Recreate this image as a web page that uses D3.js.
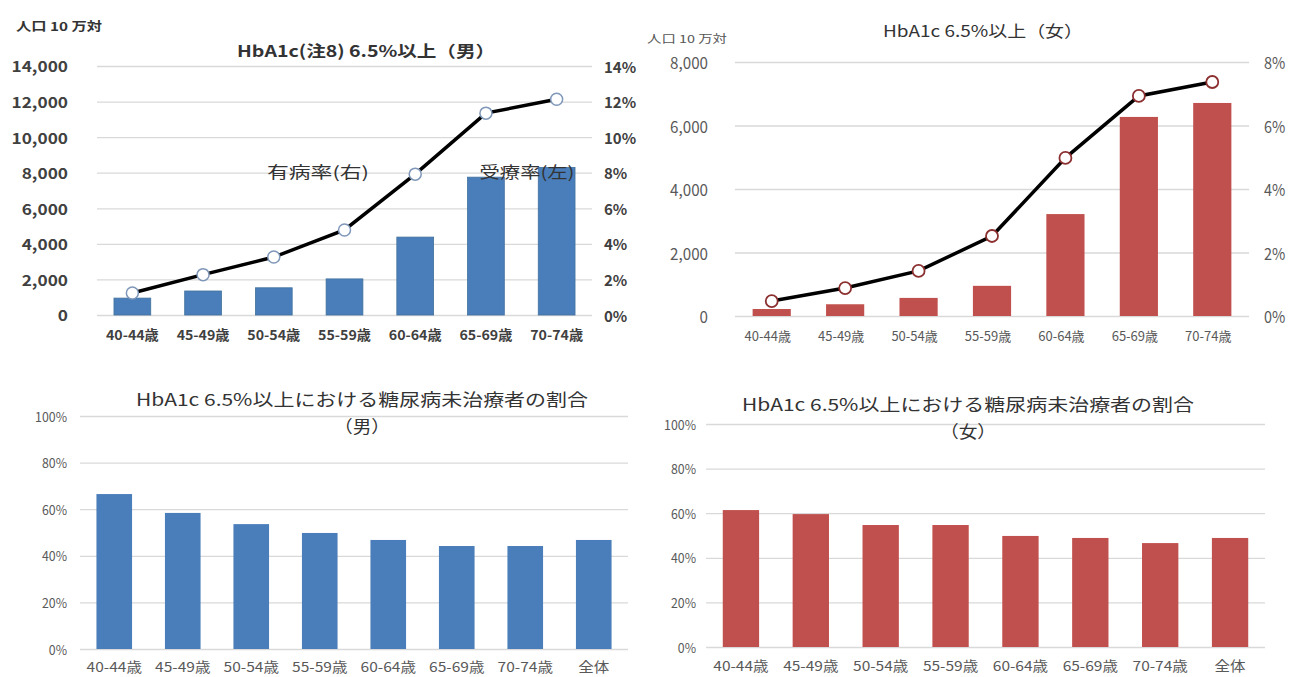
<!DOCTYPE html>
<html><head><meta charset="utf-8">
<script src="https://cdn.jsdelivr.net/npm/d3@7"></script>
<style>
body{margin:0;background:#fff;}
svg{display:block;font-family:"Noto Sans CJK JP","Noto Sans",sans-serif;}
</style></head>
<body>
<svg id="c" width="1289" height="677"></svg>
<script>
// ---- data ----
const ageCats = ["40-44歳","45-49歳","50-54歳","55-59歳","60-64歳","65-69歳","70-74歳"];
const ageCatsAll = ["40-44歳","45-49歳","50-54歳","55-59歳","60-64歳","65-69歳","70-74歳","全体"];
const maleTreatment = [950, 1350, 1530, 2030, 4380, 7750, 8300];        // 受療率 (左, 人口10万対)
const malePrevalence = [1.24, 2.27, 3.26, 4.78, 7.92, 11.35, 12.13];    // 有病率 (右, %)
const femaleTreatment = [220, 370, 570, 950, 3210, 6270, 6710];
const femalePrevalence = [0.47, 0.88, 1.42, 2.52, 4.98, 6.93, 7.37];
const maleUntreated = [66.5, 58.4, 53.6, 49.8, 46.8, 44.2, 44.2, 46.8];
const femaleUntreated = [61.4, 59.6, 54.7, 54.7, 49.8, 48.9, 46.6, 48.9];
const leftTicksMale = [0,2000,4000,6000,8000,10000,12000,14000];
const rightTicksMale = [0,2,4,6,8,10,12,14];
const leftTicksFemale = [0,2000,4000,6000,8000];
const rightTicksFemale = [0,2,4,6,8];
const pctTicks = [0,20,40,60,80,100];
const titles = {
  tl: "HbA1c(注8) 6.5%以上（男）",
  tr: "HbA1c 6.5%以上（女）",
  b1: "HbA1c 6.5%以上における糖尿病未治療者の割合",
  blSub: "（男）",
  brSub: "（女）",
  unit: "人口 10 万対",
  prev: "有病率(右)",
  treat: "受療率(左)"
};

const svg = d3.select("#c");
const BLUE = "#4a7ebb", RED = "#c0504d", GRID = "#d9d9d9";
const fmt = d3.format(",");

function txt(g, x, y, s, o) {
  o = o || {};
  const t = g.append("text")
    .attr("transform", `translate(${x},${y}) scale(${o.sx||1},1)`)
    .attr("text-anchor", o.anchor || "start")
    .attr("dominant-baseline", "central")
    .attr("font-size", o.size || 13)
    .attr("font-weight", o.weight || "normal")
    .attr("fill", o.fill || "#595959")
    .text(s);
  if (o.len) t.attr("textLength", o.len).attr("lengthAdjust", "spacingAndGlyphs");
  return t;
}

function grid(g, y, x0, x1, ticks) {
  g.append("g").attr("transform", `translate(${x0},0)`)
    .call(d3.axisLeft(y).tickValues(ticks).tickSize(-(x1 - x0)).tickFormat(""))
    .call(a => a.select(".domain").remove())
    .call(a => a.selectAll("line").attr("stroke", GRID).attr("stroke-width", 1.3));
}

// ---------- Top-left (male) ----------
(function(){
  const g = svg.append("g");
  const x0 = 97, x1 = 592, yb = 315, yt = 66;
  const x = d3.scaleBand().domain(ageCats).range([x0, x1]).paddingInner(0.48).paddingOuter(0.24);
  const yL = d3.scaleLinear().domain([0, 14000]).range([yb, yt]);
  const yR = d3.scaleLinear().domain([0, 14]).range([yb, yt]);
  grid(g, yL, x0, x1, leftTicksMale);
  leftTicksMale.forEach(v => txt(g, 68, yL(v), fmt(v), {anchor:"end", size:15, weight:"bold", fill:"#404040", sx:1.15}));
  rightTicksMale.forEach(v => txt(g, 604, yR(v), v + "%", {size:15, weight:"bold", fill:"#404040", sx:1.0}));
  g.selectAll("rect").data(maleTreatment).join("rect")
    .attr("x", (d,i) => x(ageCats[i])).attr("width", x.bandwidth())
    .attr("y", d => yL(d)).attr("height", d => yb - yL(d))
    .attr("fill", BLUE).attr("stroke", "#41719c").attr("stroke-width", 0.8);
  ageCats.forEach(c => txt(g, x(c) + x.bandwidth()/2, 334, c, {anchor:"middle", size:13.5, weight:"bold", fill:"#404040", sx:1.05}));
  const cx = (d,i) => x(ageCats[i]) + x.bandwidth()/2;
  g.append("path").datum(malePrevalence)
    .attr("d", d3.line().x(cx).y(d => yR(d)))
    .attr("fill", "none").attr("stroke", "#000").attr("stroke-width", 3.5);
  g.selectAll("circle").data(malePrevalence).join("circle")
    .attr("cx", cx).attr("cy", d => yR(d)).attr("r", 6)
    .attr("fill", "#fff").attr("stroke", "#7f97b8").attr("stroke-width", 1.5);
  txt(g, 366, 50, titles.tl, {anchor:"middle", size:16, weight:"bold", fill:"#333", len:258});
  txt(g, 16, 25, titles.unit, {size:12, weight:"bold", fill:"#333", len:86});
  txt(g, 318, 171, titles.prev, {anchor:"middle", size:16, fill:"#333", len:102});
  txt(g, 527, 171, titles.treat, {anchor:"middle", size:16, fill:"#333", len:95});
})();

// ---------- Top-right (female) ----------
(function(){
  const g = svg.append("g");
  const x0 = 735, x1 = 1249, yb = 316, yt = 62;
  const x = d3.scaleBand().domain(ageCats).range([x0, x1]).paddingInner(0.48).paddingOuter(0.24);
  const yL = d3.scaleLinear().domain([0, 8000]).range([yb, yt]);
  const yR = d3.scaleLinear().domain([0, 8]).range([yb, yt]);
  grid(g, yL, x0, x1, leftTicksFemale);
  leftTicksFemale.forEach(v => txt(g, 708, yL(v), fmt(v), {anchor:"end", size:16, fill:"#595959", sx:0.95}));
  rightTicksFemale.forEach(v => txt(g, 1264, yR(v), v + "%", {size:16, fill:"#595959", sx:0.9}));
  g.selectAll("rect").data(femaleTreatment).join("rect")
    .attr("x", (d,i) => x(ageCats[i])).attr("width", x.bandwidth())
    .attr("y", d => yL(d)).attr("height", d => yb - yL(d))
    .attr("fill", RED);
  ageCats.forEach(c => txt(g, x(c) + x.bandwidth()/2 - 4, 335, c, {anchor:"middle", size:13, fill:"#595959"}));
  const cx = (d,i) => x(ageCats[i]) + x.bandwidth()/2;
  g.append("path").datum(femalePrevalence)
    .attr("d", d3.line().x(cx).y(d => yR(d)))
    .attr("fill", "none").attr("stroke", "#000").attr("stroke-width", 3.5);
  g.selectAll("circle").data(femalePrevalence).join("circle")
    .attr("cx", cx).attr("cy", d => yR(d)).attr("r", 6)
    .attr("fill", "#fff").attr("stroke", "#8b2f2f").attr("stroke-width", 1.8);
  txt(g, 983, 30, titles.tr, {anchor:"middle", size:16, fill:"#333", len:200});
  txt(g, 647, 38, titles.unit, {size:11, fill:"#555", len:80});
})();

// ---------- Bottom charts ----------
function bottom(data, color, o) {
  const g = svg.append("g");
  const x = d3.scaleBand().domain(ageCatsAll).range([o.x0, o.x1]).paddingInner(0.48).paddingOuter(0.24);
  const y = d3.scaleLinear().domain([0, 100]).range([o.yb, o.yt]);
  grid(g, y, o.x0, o.x1, pctTicks);
  pctTicks.forEach(v => txt(g, o.tickX, y(v), v + "%", {anchor:"end", size:13, fill:"#595959", sx:0.95}));
  g.selectAll("rect").data(data).join("rect")
    .attr("x", (d,i) => x(ageCatsAll[i])).attr("width", x.bandwidth())
    .attr("y", d => y(d)).attr("height", d => o.yb - y(d))
    .attr("fill", color);
  ageCatsAll.forEach(c => txt(g, x(c) + x.bandwidth()/2, o.catY, c, {anchor:"middle", size:13.5, fill:"#595959", sx:1.15}));
  txt(g, o.tcx, o.t1y, titles.b1, {anchor:"middle", size:17, fill:"#333", len:452});
  txt(g, o.tcx, o.t2y, o.sub, {anchor:"middle", size:17, fill:"#333", sx:1.1});
}
bottom(maleUntreated, BLUE, {x0:80, x1:628, yb:649, yt:416, tickX:67, catY:666, tcx:362, t1y:398, t2y:425, sub:titles.blSub});
bottom(femaleUntreated, RED, {x0:706, x1:1265, yb:647, yt:424, tickX:696, catY:665, tcx:968, t1y:403, t2y:430, sub:titles.brSub});
</script>
</body></html>
